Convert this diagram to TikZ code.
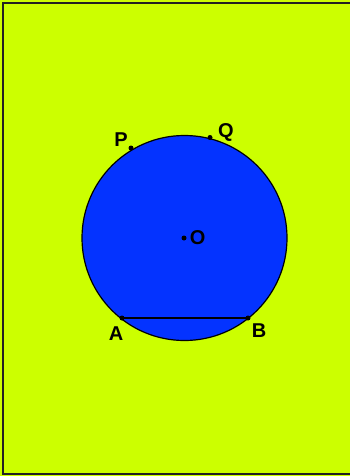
\documentclass[tikz,border=0pt]{standalone}
\usepackage{fontspec}
\setmainfont{Liberation Sans}
\usetikzlibrary{positioning}
\definecolor{bgyellow}{HTML}{CCFF00}
\definecolor{discblue}{HTML}{0433FF}
\definecolor{border}{HTML}{222222}
\tikzset{
  pt/.style={circle, fill=black, inner sep=0pt, minimum size=5pt},
  lbl/.style={font=\bfseries\fontsize{20}{20}\selectfont, inner sep=0pt},
}

\begin{document}
\begin{tikzpicture}[x=1pt, y=-1pt]
  \useasboundingbox (0,0) rectangle (350,476);

  % background and frame
  \fill[bgyellow] (0,0) rectangle (350,476);
  \draw[border, line width=2pt] (2.5,3.5) rectangle (351,474);

  % the disc
  \draw[fill=discblue, line width=1.2pt] (184.5,238) circle[radius=102.5];

  \node[pt] (o) at (184,238) {};
  \node[pt] (p) at (131,148) {};
  \node[pt] (q) at (210,137.5) {};
  \node[pt] (a) at (122,318) {};
  \node[pt] (b) at (248,318) {};

  \draw[line width=2pt] (a.center) -- (b.center);

  \node[lbl, right=3pt of o] (olbl) {O};
  \node[lbl] (plbl) at (121,140) {P};
  \node[lbl] (qlbl) at (226,132) {Q};
  \node[lbl] (albl) at (116,334) {A};
  \node[lbl] (blbl) at (259,331) {B};
\end{tikzpicture}
\end{document}
